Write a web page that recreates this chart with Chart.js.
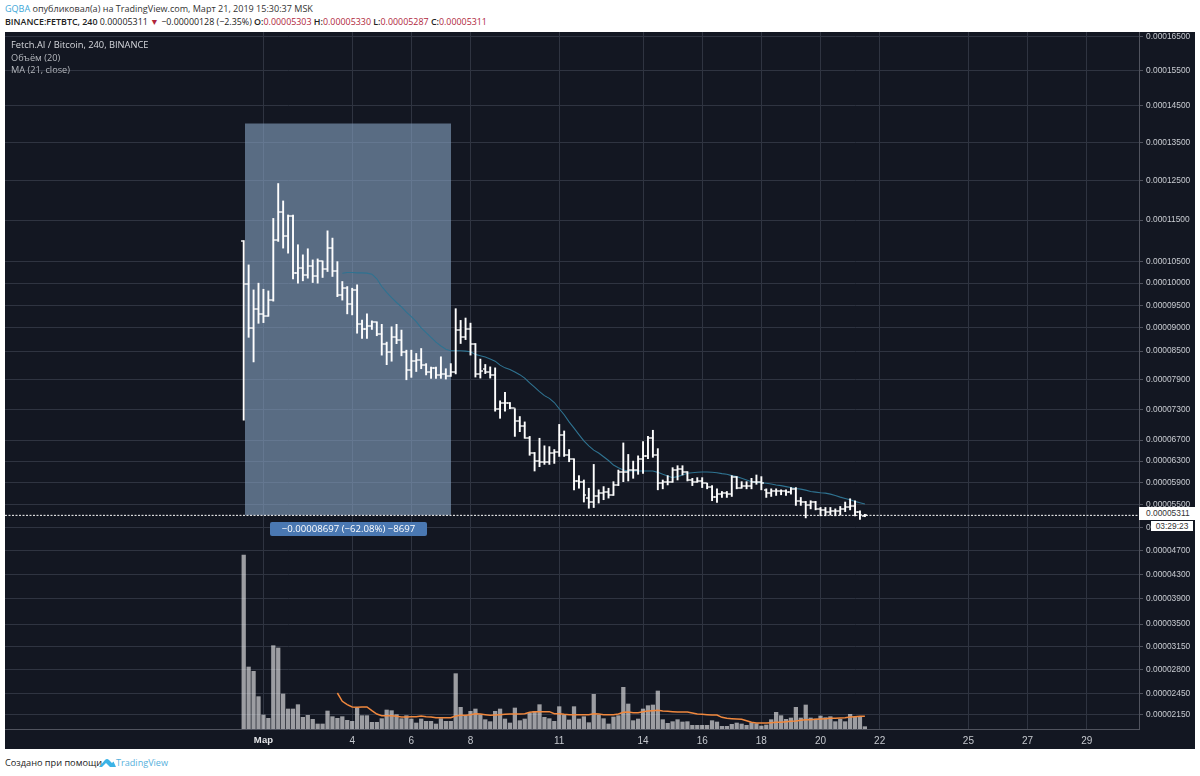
<!DOCTYPE html>
<html lang="ru"><head><meta charset="utf-8"><title>Fetch.AI / Bitcoin</title>
<script src="https://cdn.jsdelivr.net/npm/chart.js@4"></script>
<style>
html,body{margin:0;padding:0;background:#fff;width:1200px;height:776px;overflow:hidden;font-family:"Open Sans","Noto Sans",sans-serif;}
.t{position:absolute;white-space:nowrap;}
#chartBox{position:absolute;left:5px;top:32px;width:1190px;height:717px;background:#131722;}
canvas{display:block;}
b{font-weight:600}.r{color:#b0263b}
</style></head><body>
<div class="t" style="left:5px;top:1px;font-size:9.05px;line-height:15px;color:#333"><span style="color:#3da7d8">GQBA</span> опубликовал(а) на TradingView.com, Март 21, 2019 15:30:37 MSK</div>
<div class="t" style="left:5px;top:14px;font-size:8.9px;line-height:15px;color:#222"><b>BINANCE:FETBTC, 240</b> 0.00005311 <span class="r">▼</span> −0.00000128 (−2.35%) <b>O:</b><span class="r">0.00005303</span> <b>H:</b><span class="r">0.00005330</span> <b>L:</b><span class="r">0.00005287</span> <b>C:</b><span class="r">0.00005311</span></div>
<div id="chartBox"><canvas id="c" width="1190" height="717"></canvas></div>
<div class="t" style="left:11px;top:38px;font-size:9.3px;line-height:14px;color:#d6d8dd">Fetch.AI / Bitcoin, 240, BINANCE</div>
<div class="t" style="left:11px;top:51px;font-size:9.2px;line-height:14px;color:#b4b7bd">Объём (20)</div>
<div class="t" style="left:11px;top:63px;font-size:9.2px;line-height:14px;color:#b4b7bd">MA (21, close)</div>
<div class="t" style="left:270px;top:522px;width:157px;height:14px;background:#4a78b2;border-radius:2px;color:#fff;font-size:9.6px;line-height:14px;text-align:center">−0.00008697 (−62.08%) −8697</div>
<div class="t" style="left:1139px;top:507px;width:56px;height:13px;background:#fff;color:#333;font:8.4px/13px 'Liberation Sans',sans-serif;text-indent:7px">0.00005311</div>
<div class="t" style="left:1151px;top:521px;width:42px;height:10px;background:#fff;color:#333;font:8.4px/10px 'Liberation Sans',sans-serif;text-align:center">03:29:23</div>
<div class="t" style="left:5px;top:755px;font-size:9.2px;line-height:15px;color:#222">Создано при помощи</div>
<svg class="t" style="left:99px;top:757px" width="17" height="11" viewBox="0 0 17 11"><path d="M0 10 L6 3 Q8 1 10 3 L13 6 L14.5 4.5 L17 10 Z" fill="#3bb3e6"/><path d="M3 10 L7 6 L11 10 Z" fill="#fff"/></svg>
<div class="t" style="left:116px;top:755px;font-size:9.1px;line-height:15px;color:#55b0dc">TradingView</div>
<script>
const priceTicks=[16500,15500,14500,13500,12500,11500,10500,10000,9500,9000,8500,7900,7300,6700,6300,5900,5500,5100,4700,4300,3900,3500,3150,2800,2450,2150];
const xTickBars=[4,22,34,46,64,81,93,105,117,129,147,159,171];
const xTickLabels=['Мар','4','6','8','11','14','16','18','20','22','25','27','29'];
const opens=[11000,9977,9000,9423,9308,9269,9615,11020,11708,11100,
11608,10231,10346,10192,10400,10154,10516,10331,10820,10285,
9730,9885,9538,9846,9077,8980,9038,9131,8863,8658,
8486,8795,8740,8486,8093,8286,8307,8200,8057,8150,
8000,8021,7971,8057,8944,8803,8979,8662,8027,8133,
8062,7992,7314,7438,7424,7328,7074,6975,6749,6453,
6300,6288,6288,6453,6480,6806,6410,6333,5931,5918,
5619,5548,5649,5709,5727,5679,5858,6090,6103,6133,
6133,6344,6388,6749,6410,5888,5918,5918,6134,6152,
6091,5949,5918,5937,5888,5828,5631,5691,5709,5691,
6011,5810,5846,5846,5906,5918,5769,5709,5739,5739,
5739,5721,5787,5572,5548,5488,5548,5426,5408,5377,
5389,5389,5426,5451,5469,5377,5303];
const closes=[9977,9000,9423,9308,9269,9615,11020,11708,11100,11608,
10231,10346,10192,10400,10154,10516,10331,10820,10285,9730,
9885,9538,9846,9077,8980,9038,9131,8863,8658,8486,
8795,8740,8486,8093,8286,8307,8200,8057,8150,8000,
8021,7971,8057,8944,8803,8979,8662,8027,8077,8062,
7992,7314,7438,7424,7328,7074,6975,6749,6453,6300,
6288,6288,6453,6480,6806,6410,6333,5931,5918,5679,
5548,5649,5709,5727,5679,5858,6090,6103,6133,6133,
6344,6388,6749,6410,5888,5918,5918,6134,6152,6091,
5949,5918,5937,5888,5828,5631,5691,5709,5691,6011,
5810,5846,5846,5906,5918,5888,5709,5739,5739,5739,
5721,5787,5572,5548,5488,5548,5426,5408,5377,5389,
5389,5426,5451,5469,5377,5315,5311];
const highs=[11000,10423,9846,10000,9861,9823,11540,12417,11975,11625,
11625,10900,10660,10804,10540,10564,10516,11236,11060,10500,
10038,9923,9885,9962,9169,9308,9154,9131,9077,8692,
9023,9077,8952,8520,8520,8450,8555,8236,8164,8164,
8379,8129,8236,9423,9164,9216,9104,8662,8331,8218,
8168,8147,7472,7645,7438,7314,7159,7053,6771,6464,
6735,6590,6574,6519,7004,6876,6519,6344,6029,5949,
5798,6238,5769,5828,5798,5918,6133,6645,6426,6300,
6399,6673,6771,6890,6536,5949,6029,6177,6214,6214,
6103,5980,5992,5992,5888,5846,5787,5739,5739,6029,
6011,5918,5918,5980,6041,6011,5787,5787,5787,5769,
5769,5810,5810,5631,5560,5572,5560,5451,5451,5451,
5426,5469,5548,5607,5572,5389,5330];
const lows=[7087,8795,8271,9100,9115,9254,9592,10980,10820,10700,
10100,10000,10054,10115,10015,10000,10131,10269,10154,9692,
9615,9308,9285,8884,8774,8774,8966,8829,8414,8214,
8286,8658,8400,7900,7950,8071,8129,8000,7929,7929,
7929,7914,7971,8021,8662,8746,8415,7956,7935,8027,
7935,7265,7124,7265,7314,6771,6862,6735,6410,6115,
6195,6238,6238,6257,6388,6388,6288,5769,5798,5548,
5437,5450,5530,5590,5619,5667,5846,5918,5931,5980,
6054,6072,6344,6372,5769,5787,5858,5906,5949,6041,
5931,5846,5906,5810,5787,5572,5542,5631,5631,5649,
5787,5798,5787,5787,5870,5769,5631,5649,5667,5679,
5667,5691,5488,5488,5266,5426,5408,5303,5303,5315,
5303,5315,5377,5408,5303,5241,5287];
const priceMA=[null,null,null,null,null,null,null,null,null,null,
null,null,null,null,null,null,null,null,null,null,
10230,10246,10246,10238,10238,10231,10208,10100,9923,9792,
9669,9562,9462,9346,9246,9138,9000,8897,8795,8692,
8610,8541,8507,8507,8507,8500,8486,8430,8401,8373,
8331,8288,8204,8147,8112,8062,8006,7935,7838,7748,
7659,7576,7521,7438,7314,7194,7053,6933,6806,6684,
6590,6508,6453,6382,6311,6226,6177,6134,6115,6115,
6115,6115,6115,6115,6090,6054,6023,5992,6011,6041,
6072,6084,6091,6097,6097,6091,6084,6066,6054,6029,
6011,5980,5949,5918,5900,5900,5888,5876,5858,5846,
5828,5810,5793,5781,5763,5739,5727,5715,5709,5691,
5667,5637,5613,5590,5560,5536,5512];
const volumes=[522,186,173,97,42,32,250,243,105,60,
60,73,35,41,29,15,15,54,37,32,
37,26,23,62,40,40,20,20,31,57,
55,43,31,40,30,18,30,23,23,15,
31,23,23,166,65,40,53,60,43,28,
22,53,60,30,18,63,25,30,48,53,
73,35,31,23,67,42,27,67,30,37,
19,104,42,31,15,36,40,125,75,25,
30,60,70,72,114,28,17,22,28,21,
22,11,11,11,11,25,21,8,8,14,
18,15,11,19,16,9,12,28,50,40,
29,33,65,33,72,33,30,39,34,37,
22,29,22,44,35,37,7];
const volumeMA=[null,null,null,null,null,null,null,null,null,null,
null,null,null,null,null,null,null,null,null,108,
83,73,66,65,66,66,55,45,40,40,
40,38,36,36,37,37,39,37,36,34,
34,34,34,39,41,41,43,46,45,43,
41,42,43,44,45,45,45,46,50,52,
52,52,52,46,46,44,43,43,43,43,
43,46,45,43,43,43,45,50,51,49,
49,52,54,55,56,54,53,52,51,51,
51,48,45,44,43,42,42,35,32,31,
30,29,25,20,18,18,18,19,20,20,
22,23,24,26,28,28,29,30,31,32,
32,33,34,36,37,38,38];
const rangeStartBar=0.26, rangeEndBar=42.05, rangeTop=14008, lastPrice=5311;

class ShiftedLogScale extends Chart.LinearScale{
  static id='shiftedLog';
  static defaults=Chart.LinearScale.defaults;
  _m(v){return Math.log(v+this.options.shift);}
  getPixelForValue(v){
    const a=this._m(this.max),b=this._m(this.min);
    return this.top+(a-this._m(v))/(a-b)*(this.bottom-this.top);
  }
  getValueForPixel(p){
    const a=this._m(this.max),b=this._m(this.min);
    return Math.exp(a-(p-this.top)/(this.bottom-this.top)*(a-b))-this.options.shift;
  }
}
Chart.register(ShiftedLogScale);

function tickImage(side){
  const c=document.createElement('canvas');c.width=5;c.height=2;
  const g=c.getContext('2d');g.fillStyle='#fff';
  g.fillRect(side<0?0:2.5,0.35,2.5,1.3);return c;
}
function noPad(s){s.paddingLeft=s.paddingRight=s.paddingTop=s.paddingBottom=0;}
const bars=opens.map((_,i)=>i);
const GRID='#2f3441';
new Chart(document.getElementById('c'),{
  type:'bar',
  data:{datasets:[
    {type:'line',order:10,yAxisID:'y',xAxisID:'x',data:[{x:rangeStartBar,y:rangeTop},{x:rangeEndBar,y:rangeTop}],
      borderWidth:0,pointRadius:0,fill:{value:lastPrice},backgroundColor:'rgba(137,165,196,0.6)'},
    {type:'bar',order:8,grouped:false,yAxisID:'vol',data:bars.map(i=>({x:i,y:volumes[i]})),
      backgroundColor:'rgba(255,255,255,0.58)',barThickness:3.6},
    {type:'line',order:7,yAxisID:'vol',data:bars.map(i=>({x:i,y:volumeMA[i]})),
      borderColor:'#f0883e',borderWidth:1.5,pointRadius:0,fill:false},
    {type:'line',order:6,yAxisID:'y',data:bars.map(i=>({x:i,y:priceMA[i]})),
      borderColor:'#2f7391',borderWidth:1.1,pointRadius:0,fill:false},
    {type:'bar',order:5,grouped:false,yAxisID:'y',data:bars.map(i=>({x:i,y:[lows[i],highs[i]]})),
      backgroundColor:'#ffffff',barThickness:1.25},
    {type:'line',order:4,yAxisID:'y',showLine:false,data:bars.map(i=>({x:i,y:opens[i]})),
      pointStyle:tickImage(-1),pointRadius:3},
    {type:'line',order:4,yAxisID:'y',showLine:false,data:bars.map(i=>({x:i,y:closes[i]})),
      pointStyle:tickImage(1),pointRadius:3},
    {type:'line',order:3,yAxisID:'y',data:[{x:-48.42,y:lastPrice},{x:181.6,y:lastPrice}],
      borderColor:'#ffffff',borderWidth:1,borderDash:[2,1.5],pointRadius:0,fill:false}
  ]},
  options:{
    responsive:false,animation:false,events:[],
    layout:{padding:0,autoPadding:false},
    plugins:{legend:{display:false},tooltip:{enabled:false},title:{display:false}},
    scales:{
      x:{type:'linear',position:'bottom',min:-48.42,max:181.6,offset:false,
        afterBuildTicks:s=>{s.ticks=xTickBars.map(v=>({value:v}));},
        afterFit:s=>{s.height=20;noPad(s);},
        grid:{color:GRID,lineWidth:1,offset:false,drawTicks:false},
        border:{display:true,color:'#50535e'},
        ticks:{autoSkip:false,maxRotation:0,padding:6,
          color:c=>c.index===0?'#e4e5e8':'#c5c8ce',
          font:c=>({family:"'Liberation Sans',sans-serif",size:c.index===0?9.5:10,weight:c.index===0?'bold':'normal'}),
          callback:(v,i)=>xTickLabels[i]}
      },
      y:{type:'shiftedLog',position:'right',shift:10500,min:1950,max:16650,
        afterBuildTicks:s=>{s.ticks=priceTicks.map(v=>({value:v}));},
        afterFit:s=>{s.width=56;noPad(s);},
        grid:{color:GRID,lineWidth:1,tickLength:4,tickColor:'#50535e'},
        border:{display:true,color:'#50535e'},
        ticks:{autoSkip:false,padding:3,color:'#c9ccd2',
          font:{family:"'Liberation Sans',sans-serif",size:8.4},
          callback:v=>(v/1e8).toFixed(8)}
      },
      vol:{type:'linear',display:false,position:'right',min:0,max:2091,grid:{display:false}}
    }
  }
});
</script>
</body></html>
